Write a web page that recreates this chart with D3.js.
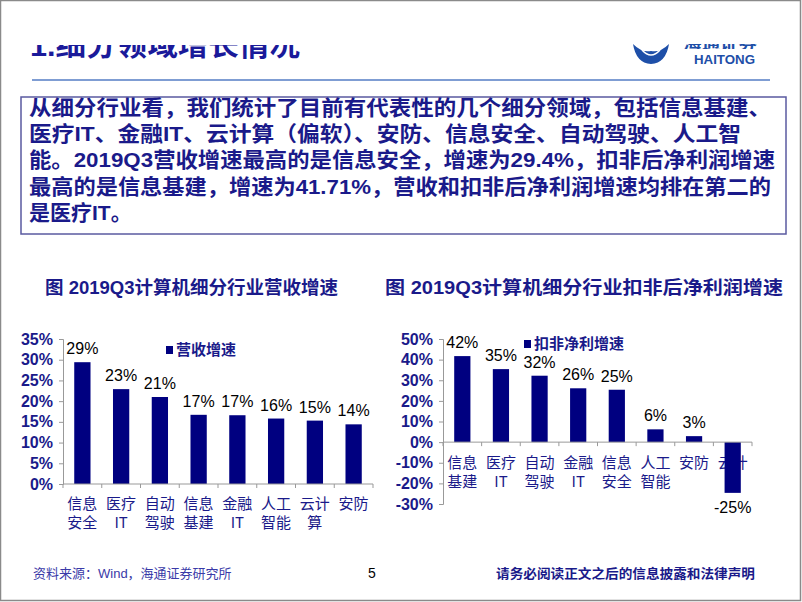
<!DOCTYPE html>
<html><head><meta charset="utf-8">
<script src="https://cdn.jsdelivr.net/npm/d3@7"></script>
<style>body{margin:0;background:#fff}svg{display:block}</style>
</head><body>
<svg id="c" width="802" height="602"></svg>
<script>
// ---- data ----
const revCategories = ["信息安全","医疗IT","自动驾驶","信息基建","金融IT","人工智能","云计算","安防"];
const revValues = [29.4, 22.9, 21.0, 16.7, 16.6, 15.8, 15.3, 14.4];
const revTicks = [0, 5, 10, 15, 20, 25, 30, 35];
const revLegend = "营收增速";
const profCategories = ["信息基建","医疗IT","自动驾驶","金融IT","信息安全","人工智能","安防","云计算"];
const profValues = [41.71, 35.4, 32.2, 26.1, 25.4, 6.2, 2.9, -24.6];
const profTicks = [-30, -20, -10, 0, 10, 20, 30, 40, 50];
const profLegend = "扣非净利增速";
const titleText = "1.细分领域增长情况";
const bodyLines = [
  "从细分行业看，我们统计了目前有代表性的几个细分领域，包括信息基建、",
  "医疗IT、金融IT、云计算（偏软）、安防、信息安全、自动驾驶、人工智",
  "能。2019Q3营收增速最高的是信息安全，增速为29.4%，扣非后净利润增速",
  "最高的是信息基建，增速为41.71%，营收和扣非后净利润增速均排在第二的",
  "是医疗IT。"
];
const chartTitles = ["图 2019Q3计算机细分行业营收增速", "图 2019Q3计算机细分行业扣非后净利润增速"];
const footerLeft = "资料来源：Wind，海通证券研究所";
const footerPage = "5";
const footerRight = "请务必阅读正文之后的信息披露和法律声明";

const NAVY = "#000080";
const TXT = "#1a1a8a";
const FONT = "'Liberation Sans', Arial, 'Noto Sans CJK SC', sans-serif";
const svg = d3.select("#c");

// page frame
svg.append("rect").attr("x",0.5).attr("y",0.5).attr("width",800).attr("height",600)
  .attr("fill","#fff").attr("stroke","#8a8a8a").attr("stroke-width",1.5);

// title (top half clipped as in the reference)
svg.append("clipPath").attr("id","tclip").append("rect").attr("x",0).attr("y",45).attr("width",400).attr("height",20);
svg.append("text").attr("x",30).attr("y",56).attr("clip-path","url(#tclip)")
  .attr("font-family",FONT).attr("font-weight","bold").attr("font-size",29).attr("fill","#1a1a9a")
  .attr("textLength",270).attr("lengthAdjust","spacingAndGlyphs")
  .text(titleText);
svg.append("line").attr("x1",32).attr("x2",770).attr("y1",80).attr("y2",80)
  .attr("stroke","#7f9dd3").attr("stroke-width",2);

// logo
const logo = svg.append("g");
logo.append("path").attr("d","M633,44 Q636,63 651,64 Q666,63 669,44 Q660,53 651,51 Q642,53 633,44 Z")
  .attr("fill","#1e4fa8");
logo.append("path").attr("d","M642,50 Q651,60 660,50").attr("stroke","#fff").attr("stroke-width",1.5).attr("fill","none");
logo.append("clipPath").attr("id","lclip").append("rect").attr("x",670).attr("y",44).attr("width",100).attr("height",5);
logo.append("text").attr("x",683).attr("y",49).attr("clip-path","url(#lclip)")
  .attr("font-family",FONT).attr("font-weight","bold").attr("font-size",15).attr("fill","#1e4fa8")
  .attr("textLength",74).attr("lengthAdjust","spacingAndGlyphs").text("海通证券");
logo.append("text").attr("x",694).attr("y",64).attr("font-family",FONT).attr("font-weight","bold")
  .attr("font-size",12).attr("fill","#1e4fa8").attr("textLength",61).attr("lengthAdjust","spacingAndGlyphs").text("HAITONG");

// text box
svg.append("rect").attr("x",21).attr("y",97).attr("width",765).attr("height",137)
  .attr("fill","none").attr("stroke","#5a5aa0").attr("stroke-width",1.5);
const lineEnds = [742, 712, 746, 742, null];
bodyLines.forEach((t,i)=>{
  const el = svg.append("text").attr("x",29).attr("y",115 + i*26.2)
    .attr("font-family",FONT).attr("font-weight","bold").attr("font-size",21).attr("fill",TXT).text(t);
  if (lineEnds[i]) el.attr("textLength",lineEnds[i]).attr("lengthAdjust","spacingAndGlyphs");
});

// chart titles
svg.append("text").attr("x",45).attr("y",294).attr("font-family",FONT).attr("font-weight","bold")
  .attr("font-size",18).attr("fill",TXT).attr("textLength",293).attr("lengthAdjust","spacingAndGlyphs").text(chartTitles[0]);
svg.append("text").attr("x",385).attr("y",294).attr("font-family",FONT).attr("font-weight","bold")
  .attr("font-size",18).attr("fill",TXT).attr("textLength",398).attr("lengthAdjust","spacingAndGlyphs").text(chartTitles[1]);

function barChart(cfg){
  const g = svg.append("g");
  const x = d3.scaleBand().domain(cfg.cats).range(cfg.xr).paddingInner(0.58).paddingOuter(0.29);
  const y = d3.scaleLinear().domain(cfg.yd).range(cfg.yr);
  // y axis
  const ya = g.append("g").attr("transform",`translate(${cfg.xr[0]},0)`)
    .call(d3.axisLeft(y).tickValues(cfg.ticks).tickFormat(d=>d+"%").tickSize(4).tickPadding(6));
  ya.select(".domain").attr("stroke","#999");
  ya.selectAll(".tick line").attr("stroke","#999");
  ya.selectAll(".tick text").attr("font-family",FONT).attr("font-weight","bold")
    .attr("font-size",16).attr("fill",TXT);
  // category labels (drawn before bars so bars overlay them)
  const y0 = y(0);
  const lab = g.append("g");
  cfg.cats.forEach(c=>{
    const cx = x(c) + x.bandwidth()/2;
    [c.slice(0,2), c.slice(2)].forEach((s,k)=>{
      if(!s) return;
      lab.append("text").attr("x",cx).attr("y",cfg.labY + k*19).attr("text-anchor","middle")
        .attr("font-family","'Noto Sans CJK SC', sans-serif").attr("font-size",15).attr("fill",TXT).text(s);
    });
  });
  // bars
  g.selectAll("rect.bar").data(cfg.vals).join("rect").attr("class","bar")
    .attr("x",(d,i)=>x(cfg.cats[i])).attr("width",x.bandwidth())
    .attr("y",d=>Math.min(y(d),y0)).attr("height",d=>Math.abs(y(d)-y0)).attr("fill",NAVY);
  // x axis line + ticks at band boundaries
  g.append("line").attr("x1",cfg.xr[0]).attr("x2",cfg.xr[1]).attr("y1",y0).attr("y2",y0).attr("stroke","#999");
  const step = x.step();
  d3.range(cfg.cats.length+1).forEach(i=>{
    const xx = cfg.xr[0] + i*step;
    g.append("line").attr("x1",xx).attr("x2",xx).attr("y1",y0).attr("y2",y0+4).attr("stroke","#999");
  });
  // value labels
  g.selectAll("text.val").data(cfg.vals).join("text").attr("class","val")
    .attr("x",(d,i)=>x(cfg.cats[i])+x.bandwidth()/2)
    .attr("y",d=> d>=0 ? y(d)-8 : y(d)+20)
    .attr("text-anchor","middle").attr("font-family",FONT).attr("font-size",16).attr("fill","#000")
    .text(d=>Math.round(d)+"%");
  // legend
  g.append("rect").attr("x",cfg.legX).attr("y",cfg.legY-4).attr("width",7).attr("height",8).attr("fill",NAVY);
  g.append("text").attr("x",cfg.legX+10).attr("y",cfg.legY+5).attr("font-family",FONT).attr("font-weight","bold")
    .attr("font-size",15).attr("fill",TXT).text(cfg.legend);
}

barChart({cats:revCategories, vals:revValues, ticks:revTicks, xr:[63,373], yd:[0,35], yr:[484,339],
  labY:509, legX:166, legY:350, legend:revLegend});
barChart({cats:profCategories, vals:profValues, ticks:profTicks, xr:[443,752], yd:[-30,50], yr:[504,339],
  labY:468, legX:524, legY:344, legend:profLegend});

// footer
svg.append("text").attr("x",33).attr("y",578).attr("font-family",FONT).attr("font-size",13).attr("fill","#3a3aa8").text(footerLeft);
svg.append("text").attr("x",372).attr("y",578).attr("text-anchor","middle").attr("font-family",FONT).attr("font-size",14).attr("fill","#000").text(footerPage);
svg.append("text").attr("x",496).attr("y",578).attr("font-family",FONT).attr("font-weight","bold").attr("font-size",13).attr("fill",TXT)
  .attr("textLength",259).attr("lengthAdjust","spacingAndGlyphs").text(footerRight);
</script>
</body></html>
